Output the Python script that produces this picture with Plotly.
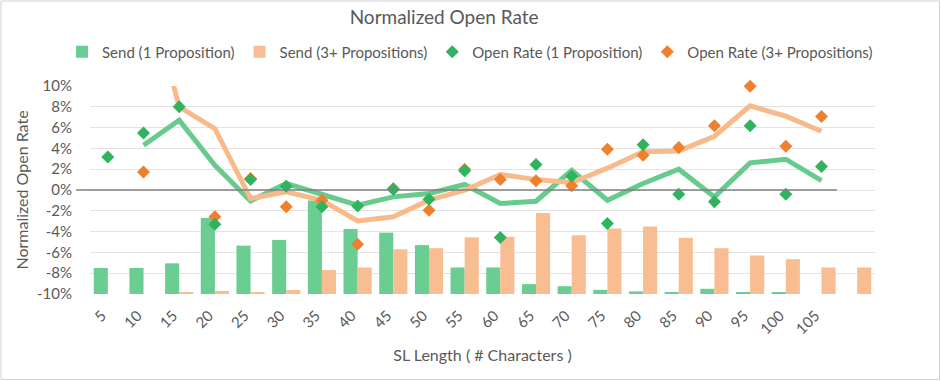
import plotly.graph_objects as go

# ---- data ----
sl_length = [5, 10, 15, 20, 25, 30, 35, 40, 45, 50, 55, 60, 65, 70, 75, 80, 85, 90, 95, 100, 105, 110]
tick_values = [5, 10, 15, 20, 25, 30, 35, 40, 45, 50, 55, 60, 65, 70, 75, 80, 85, 90, 95, 100, 105]
tick_labels = [str(v) for v in tick_values]

# send volume (bar heights, in axis percentage points above the -10% floor)
send_1 = [2.5, 2.5, 2.95, 7.3, 4.65, 5.2, 9.0, 6.25, 5.9, 4.7, 2.55, 2.55, 0.95, 0.75, 0.4, 0.25, 0.15, 0.5, 0.12, 0.12, 0, 0]
send_3 = [0, 0, 0.15, 0.3, 0.15, 0.38, 2.3, 2.55, 4.3, 4.4, 5.45, 5.5, 7.8, 5.65, 6.3, 6.5, 5.4, 4.4, 3.7, 3.35, 2.55, 2.55]

# normalized open rate (%)
open_1 = [3.18, 5.49, 8.0, -3.29, 1.0, 0.37, -1.62, -1.53, 0.05, -0.88, 1.84, -4.57, 2.45, 1.33, -3.22, 4.34, -0.4, -1.14, 6.17, -0.4, 2.26, None]
open_3 = [None, 1.74, None, -2.58, 1.1, -1.62, -0.98, -5.21, 0.14, -1.94, 2.0, 1.0, 0.88, 0.4, 3.92, 3.35, 4.08, 6.17, 9.98, 4.21, 7.07, None]

# smoothed open-rate trend (%)
trend_1 = [None, 4.31, 6.71, 2.38, -1.05, 0.62, -0.45, -1.46, -0.66, -0.34, 0.53, -1.3, -1.08, 1.9, -0.98, 0.62, 2.0, -0.66, 2.61, 2.96, 0.91, None]
trend_3 = [None, 21.0, 8.0, 5.9, -0.82, -0.18, -1.0, -2.97, -2.58, -0.98, -0.02, 1.49, 1.0, 0.69, 2.1, 3.67, 3.76, 5.17, 8.09, 7.1, 5.65, None]

y_ticks = [-10, -8, -6, -4, -2, 0, 2, 4, 6, 8, 10]
y_tick_labels = [f"{v}%" for v in y_ticks]

def frac(vals):
    return [None if v is None else v / 100 for v in vals]

FONT = "Lato, 'Open Sans', sans-serif"
GREY = "#595959"

fig = go.Figure()
fig.add_bar(x=sl_length, y=frac(send_1), base=-0.10, name="Send (1 Proposition)", legendrank=1,
            marker=dict(color="#6BCD92", line=dict(width=0)))
fig.add_bar(x=sl_length, y=frac(send_3), base=-0.10, name="Send (3+ Propositions)", legendrank=2,
            marker=dict(color="#F8BD91", line=dict(width=0)))
fig.add_scatter(x=sl_length, y=frac(trend_1), mode="lines", showlegend=False,
                line=dict(color="#66CB8D", width=5), hoverinfo="skip", connectgaps=False)
fig.add_scatter(x=sl_length, y=frac(trend_3), mode="lines", showlegend=False,
                line=dict(color="#F9BA8B", width=5), hoverinfo="skip", connectgaps=False)
fig.add_scatter(x=sl_length, y=frac(open_3), mode="markers", name="Open Rate (3+ Propositions)",
                legendrank=4, cliponaxis=False,
                marker=dict(symbol="diamond", size=10, color="#F07F2E"))
fig.add_scatter(x=sl_length, y=frac(open_1), mode="markers", name="Open Rate (1 Proposition)",
                legendrank=3, cliponaxis=False,
                marker=dict(symbol="diamond", size=10, color="#2FB35F"))

L, R, T, B = 90, 66, 86, 87
W, H = 941, 381
pw, ph = W - L - R, H - T - B

fig.update_layout(
    width=W, height=H,
    margin=dict(l=L, r=R, t=T, b=B, autoexpand=False),
    paper_bgcolor="white", plot_bgcolor="white",
    font=dict(family=FONT, color=GREY, size=15),
    barmode="group", bargap=0.21, bargroupgap=0,
    title=dict(text="Normalized Open Rate", x=0.472, xanchor="center", y=1 - 17 / H, yref="container",
               yanchor="middle", font=dict(size=19, color=GREY)),
    legend=dict(orientation="h", x=(62 - L) / pw, xref="paper", xanchor="left",
                y=(T + ph - 52) / ph, yref="paper", yanchor="middle",
                font=dict(size=15, color=GREY), itemclick=False, tracegroupgap=0),
    showlegend=True,
)

fig.update_xaxes(range=[2.5, 112.5], tickmode="array", tickvals=tick_values, ticktext=tick_labels,
                 tickangle=-45, showgrid=False, zeroline=False, showline=False,
                 ticks="outside", ticklen=6, tickcolor="rgba(0,0,0,0)", ticklabelshift=-6,
                 automargin=False, tickfont=dict(size=15, color=GREY),
                 title=dict(text="SL Length ( # Characters )", font=dict(size=16, color=GREY), standoff=13))
fig.update_yaxes(range=[-0.1, 0.1], tickmode="array", tickvals=[v / 100 for v in y_ticks],
                 ticktext=y_tick_labels, showgrid=True, gridcolor="#E3E3E3", gridwidth=1,
                 zeroline=False, showline=False, ticks="outside", ticklen=14,
                 tickcolor="rgba(0,0,0,0)", automargin=False,
                 tickfont=dict(size=15, color=GREY),
                 title=dict(text="Normalized Open Rate", font=dict(size=16, color=GREY), standoff=4))

# zero reference line
fig.add_shape(type="line", xref="paper", yref="y", x0=(76 - L) / pw, x1=(837 - L) / pw, y0=0, y1=0,
              line=dict(color="#808080", width=1.5), layer="above")
# chart border
fig.add_shape(type="rect", xref="paper", yref="paper",
              x0=(1 - L) / pw, x1=(939.5 - L) / pw, y0=(T + ph - 379.5) / ph, y1=(T + ph - 1) / ph,
              line=dict(color="#D0D0D0", width=1), fillcolor="rgba(0,0,0,0)", layer="below")

fig.write_html("out.html", config={"displayModeBar": False},
               post_script="document.body.style.margin='0';document.body.style.overflow='hidden';")
